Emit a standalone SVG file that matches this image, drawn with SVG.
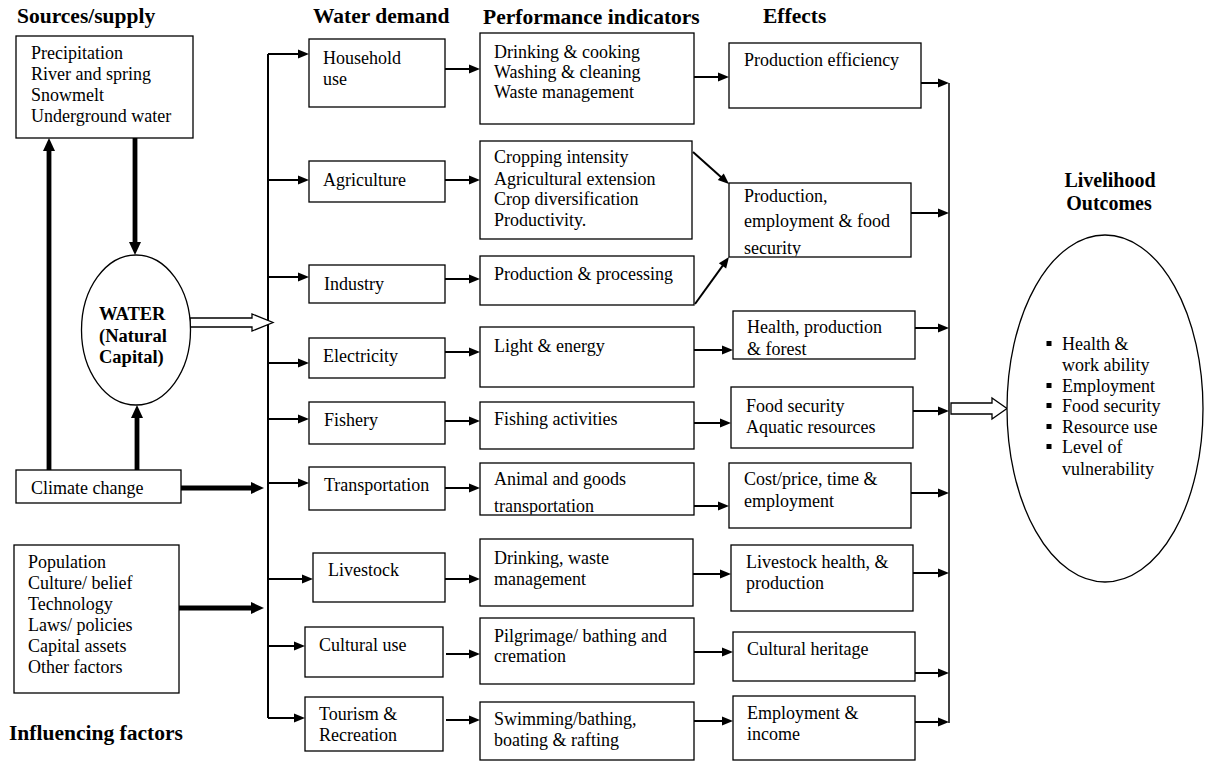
<svg xmlns="http://www.w3.org/2000/svg" width="1205" height="762" viewBox="0 0 1205 762">
<style>
.t{font-family:"Liberation Serif","Times New Roman",serif;font-size:18px;fill:#000}
.h{font-family:"Liberation Serif","Times New Roman",serif;font-size:21.5px;font-weight:bold;fill:#000}
.hw{font-family:"Liberation Serif","Times New Roman",serif;font-size:18.5px;font-weight:bold;fill:#000}
.lo{font-family:"Liberation Serif","Times New Roman",serif;font-size:20px;font-weight:bold;fill:#000;text-anchor:middle}
.box{fill:#fff;stroke:#000;stroke-width:1.3}
.el{fill:#fff;stroke:#000;stroke-width:1.3}
.ln{fill:none;stroke:#000;stroke-width:2}
.bus{fill:none;stroke:#000;stroke-width:2}
.rbus{fill:none;stroke:#000;stroke-width:1.5}
.thick{fill:none;stroke:#000;stroke-width:4.8}
.hollow{fill:#fff;stroke:#000;stroke-width:1.3}
.bul{fill:#000}
</style>
<defs>
<marker id="ah" markerUnits="userSpaceOnUse" markerWidth="11" markerHeight="9" refX="1" refY="4.5" orient="auto" overflow="visible"><path d="M0,0 L11,4.5 L0,9 z" fill="#000"/></marker>
<marker id="ahb" markerUnits="userSpaceOnUse" markerWidth="13" markerHeight="12" refX="1" refY="6" orient="auto" overflow="visible"><path d="M0,0 L13,6 L0,12 z" fill="#000"/></marker>
<clipPath id="cpA"><rect x="480" y="463" width="214" height="51.5"/></clipPath>
<clipPath id="cpE"><rect x="729" y="183" width="182" height="73.5"/></clipPath>
</defs>
<rect width="1205" height="762" fill="#fff"/>

<g id="titles">
<text class="h" x="17" y="23">Sources/supply</text>
<text class="h" x="313" y="23">Water demand</text>
<text class="h" x="483" y="24">Performance indicators</text>
<text class="h" x="763" y="23">Effects</text>
<text class="h" x="9" y="740">Influencing factors</text>
<text class="lo" x="1110" y="187">Livelihood</text>
<text class="lo" x="1109" y="210">Outcomes</text>
</g>

<g id="connectors">
<line class="bus" x1="268" y1="54" x2="268" y2="718"/>
<line class="rbus" x1="949" y1="83" x2="949" y2="723"/>
<line class="thick" x1="135" y1="138" x2="135" y2="243" marker-end="url(#ahb)"/>
<line class="thick" x1="137" y1="470" x2="137" y2="417" marker-end="url(#ahb)"/>
<line class="thick" x1="49" y1="470" x2="49" y2="150" marker-end="url(#ahb)"/>
<line class="thick" x1="181" y1="488" x2="252" y2="488" marker-end="url(#ahb)"/>
<line class="thick" x1="179" y1="608" x2="252" y2="608" marker-end="url(#ahb)"/>
<polygon class="hollow" points="190,318 252,318 252,314 273,322.5 252,331 252,327 190,327"/>
<polygon class="hollow" points="951,403 992,403 992,398 1007,408.5 992,419 992,414 951,414"/>
<line class="ln" x1="268" y1="54" x2="299" y2="54" marker-end="url(#ah)"/>
<line class="ln" x1="268" y1="180" x2="299" y2="180" marker-end="url(#ah)"/>
<line class="ln" x1="268" y1="277" x2="299" y2="277" marker-end="url(#ah)"/>
<line class="ln" x1="268" y1="363" x2="299" y2="363" marker-end="url(#ah)"/>
<line class="ln" x1="268" y1="419" x2="299" y2="419" marker-end="url(#ah)"/>
<line class="ln" x1="268" y1="483" x2="299" y2="483" marker-end="url(#ah)"/>
<line class="ln" x1="268" y1="579" x2="303" y2="579" marker-end="url(#ah)"/>
<line class="ln" x1="268" y1="646" x2="295" y2="646" marker-end="url(#ah)"/>
<line class="ln" x1="268" y1="718" x2="295" y2="718" marker-end="url(#ah)"/>
<line class="ln" x1="445" y1="69" x2="470" y2="69" marker-end="url(#ah)"/>
<line class="ln" x1="445" y1="180" x2="470" y2="180" marker-end="url(#ah)"/>
<line class="ln" x1="445" y1="279" x2="470" y2="279" marker-end="url(#ah)"/>
<line class="ln" x1="445" y1="352" x2="470" y2="352" marker-end="url(#ah)"/>
<line class="ln" x1="445" y1="421" x2="470" y2="421" marker-end="url(#ah)"/>
<line class="ln" x1="445" y1="488" x2="470" y2="488" marker-end="url(#ah)"/>
<line class="ln" x1="445" y1="579" x2="470" y2="579" marker-end="url(#ah)"/>
<line class="ln" x1="446" y1="654" x2="470" y2="654" marker-end="url(#ah)"/>
<line class="ln" x1="446" y1="720" x2="470" y2="720" marker-end="url(#ah)"/>
<line class="ln" x1="694" y1="77" x2="719" y2="77" marker-end="url(#ah)"/>
<line class="ln" x1="693" y1="152" x2="721.5" y2="177.4" marker-end="url(#ah)"/>
<line class="ln" x1="695" y1="304" x2="723.1" y2="265.1" marker-end="url(#ah)"/>
<line class="ln" x1="694" y1="350" x2="723" y2="350" marker-end="url(#ah)"/>
<line class="ln" x1="694" y1="423" x2="721" y2="423" marker-end="url(#ah)"/>
<line class="ln" x1="694" y1="506" x2="719" y2="506" marker-end="url(#ah)"/>
<line class="ln" x1="693" y1="574" x2="721" y2="574" marker-end="url(#ah)"/>
<line class="ln" x1="694" y1="652" x2="723" y2="652" marker-end="url(#ah)"/>
<line class="ln" x1="694" y1="721" x2="723" y2="721" marker-end="url(#ah)"/>
<line class="ln" x1="921" y1="83" x2="939" y2="83" marker-end="url(#ah)"/>
<line class="ln" x1="911" y1="213" x2="939" y2="213" marker-end="url(#ah)"/>
<line class="ln" x1="915" y1="328" x2="939" y2="328" marker-end="url(#ah)"/>
<line class="ln" x1="913" y1="411" x2="939" y2="411" marker-end="url(#ah)"/>
<line class="ln" x1="911" y1="493" x2="939" y2="493" marker-end="url(#ah)"/>
<line class="ln" x1="913" y1="573" x2="939" y2="573" marker-end="url(#ah)"/>
<line class="ln" x1="915" y1="673" x2="939" y2="673" marker-end="url(#ah)"/>
<line class="ln" x1="915" y1="722" x2="939" y2="722" marker-end="url(#ah)"/>
</g>

<g id="sources">
<rect class="box" x="16" y="36" width="177" height="102"/>
<text class="t" x="31" y="59">Precipitation</text>
<text class="t" x="31" y="80">River and spring</text>
<text class="t" x="31" y="101">Snowmelt</text>
<text class="t" x="31" y="122">Underground water</text>
</g>
<g id="water">
<ellipse class="el" cx="136" cy="330" rx="54.5" ry="75"/>
<text class="hw" x="99" y="320">WATER</text>
<text class="hw" x="99" y="342">(Natural</text>
<text class="hw" x="99" y="363">Capital)</text>
</g>
<g id="climate">
<rect class="box" x="16" y="470" width="165" height="33"/>
<text class="t" x="31" y="494">Climate change</text>
</g>
<g id="influencing">
<rect class="box" x="14" y="545" width="165" height="148"/>
<text class="t" x="28" y="568">Population</text>
<text class="t" x="28" y="589">Culture/ belief</text>
<text class="t" x="28" y="610">Technology</text>
<text class="t" x="28" y="631">Laws/ policies</text>
<text class="t" x="28" y="652">Capital assets</text>
<text class="t" x="28" y="673">Other factors</text>
</g>

<g id="household"><rect class="box" x="309" y="39" width="136" height="68"/><text class="t" x="323" y="64">Household</text><text class="t" x="323" y="85">use</text></g>
<g id="agriculture"><rect class="box" x="309" y="161" width="136" height="41"/><text class="t" x="323" y="186">Agriculture</text></g>
<g id="industry"><rect class="box" x="309" y="265" width="136" height="38"/><text class="t" x="324" y="290">Industry</text></g>
<g id="electricity"><rect class="box" x="309" y="338" width="136" height="40"/><text class="t" x="323" y="362">Electricity</text></g>
<g id="fishery"><rect class="box" x="309" y="402" width="136" height="42"/><text class="t" x="324" y="426">Fishery</text></g>
<g id="transportation"><rect class="box" x="309" y="467" width="136" height="43"/><text class="t" x="324" y="491">Transportation</text></g>
<g id="livestock"><rect class="box" x="313" y="553" width="132" height="49"/><text class="t" x="328" y="576">Livestock</text></g>
<g id="cultural"><rect class="box" x="305" y="627" width="138" height="50"/><text class="t" x="319" y="651">Cultural use</text></g>
<g id="tourism"><rect class="box" x="305" y="697" width="138" height="54"/><text class="t" x="319" y="720">Tourism &amp;</text><text class="t" x="319" y="741">Recreation</text></g>

<g id="p-household"><rect class="box" x="480" y="33" width="214" height="91"/><text class="t" x="494" y="58">Drinking &amp; cooking</text><text class="t" x="494" y="78">Washing &amp; cleaning</text><text class="t" x="494" y="98">Waste management</text></g>
<g id="p-agriculture"><rect class="box" x="480" y="141" width="212" height="98"/><text class="t" x="494" y="163">Cropping intensity</text><text class="t" x="494" y="185">Agricultural extension</text><text class="t" x="494" y="205">Crop diversification</text><text class="t" x="494" y="226">Productivity.</text></g>
<g id="p-industry"><rect class="box" x="480" y="256" width="214" height="49"/><text class="t" x="494" y="280">Production &amp; processing</text></g>
<g id="p-electricity"><rect class="box" x="480" y="327" width="214" height="60"/><text class="t" x="494" y="352">Light &amp; energy</text></g>
<g id="p-fishery"><rect class="box" x="480" y="402" width="214" height="47"/><text class="t" x="494" y="425">Fishing activities</text></g>
<g id="p-transport"><rect class="box" x="480" y="463" width="214" height="52"/><text class="t" x="494" y="485">Animal and goods</text><text class="t" x="494" y="512" clip-path="url(#cpA)">transportation</text></g>
<g id="p-livestock"><rect class="box" x="480" y="539" width="213" height="67"/><text class="t" x="494" y="564">Drinking, waste</text><text class="t" x="494" y="585">management</text></g>
<g id="p-cultural"><rect class="box" x="480" y="618" width="214" height="66"/><text class="t" x="494" y="642">Pilgrimage/ bathing and</text><text class="t" x="494" y="662">cremation</text></g>
<g id="p-tourism"><rect class="box" x="480" y="702" width="214" height="58"/><text class="t" x="494" y="725">Swimming/bathing,</text><text class="t" x="494" y="746">boating &amp; rafting</text></g>

<g id="e-efficiency"><rect class="box" x="729" y="43" width="192" height="65"/><text class="t" x="744" y="66">Production efficiency</text></g>
<g id="e-production"><rect class="box" x="729" y="183" width="182" height="74"/><text class="t" x="744" y="202">Production,</text><text class="t" x="744" y="227">employment &amp; food</text><text class="t" x="744" y="254" clip-path="url(#cpE)">security</text></g>
<g id="e-health"><rect class="box" x="733" y="311" width="182" height="48"/><text class="t" x="747" y="333">Health, production</text><text class="t" x="747" y="355">&amp; forest</text></g>
<g id="e-food"><rect class="box" x="731" y="387" width="182" height="61"/><text class="t" x="746" y="412">Food security</text><text class="t" x="746" y="433">Aquatic resources</text></g>
<g id="e-cost"><rect class="box" x="729" y="463" width="182" height="65"/><text class="t" x="744" y="485">Cost/price, time &amp;</text><text class="t" x="744" y="507">employment</text></g>
<g id="e-livestock"><rect class="box" x="731" y="545" width="182" height="66"/><text class="t" x="746" y="568">Livestock health, &amp;</text><text class="t" x="746" y="589">production</text></g>
<g id="e-heritage"><rect class="box" x="733" y="632" width="182" height="49"/><text class="t" x="747" y="655">Cultural heritage</text></g>
<g id="e-employment"><rect class="box" x="733" y="696" width="182" height="64"/><text class="t" x="747" y="719">Employment &amp;</text><text class="t" x="747" y="740">income</text></g>

<g id="livelihood">
<ellipse class="el" cx="1105" cy="408.5" rx="98" ry="173.5"/>
<rect class="bul" x="1046.5" y="341" width="5" height="5"/>
<rect class="bul" x="1046.5" y="383" width="5" height="5"/>
<rect class="bul" x="1046.5" y="403" width="5" height="5"/>
<rect class="bul" x="1046.5" y="424" width="5" height="5"/>
<rect class="bul" x="1046.5" y="444" width="5" height="5"/>
<text class="t" x="1062" y="350">Health &amp;</text>
<text class="t" x="1062" y="371">work ability</text>
<text class="t" x="1062" y="392">Employment</text>
<text class="t" x="1062" y="412">Food security</text>
<text class="t" x="1062" y="433">Resource use</text>
<text class="t" x="1062" y="453">Level of</text>
<text class="t" x="1062" y="475">vulnerability</text>
</g>
</svg>
